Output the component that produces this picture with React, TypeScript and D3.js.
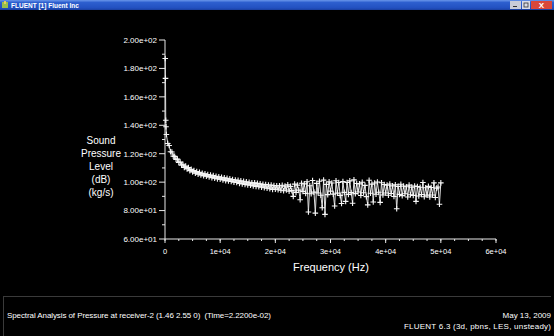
import React, { useEffect, useRef } from "react";
import * as d3 from "d3";

const FREQS: number[] = [
  45, 90, 135, 180,
  250, 500, 750, 1000, 1250, 1500, 1750, 2000, 2250, 2500,
  2750, 3000, 3250, 3500, 3750, 4000, 4250, 4500, 4750, 5000,
  5250, 5500, 5750, 6000, 6250, 6500, 6750, 7000, 7250, 7500,
  7750, 8000, 8250, 8500, 8750, 9000, 9250, 9500, 9750, 10000,
  10250, 10500, 10750, 11000, 11250, 11500, 11750, 12000, 12250, 12500,
  12750, 13000, 13250, 13500, 13750, 14000, 14250, 14500, 14750, 15000,
  15250, 15500, 15750, 16000, 16250, 16500, 16750, 17000, 17250, 17500,
  17750, 18000, 18250, 18500, 18750, 19000, 19250, 19500, 19750, 20000,
  20250, 20500, 20750, 21000, 21250, 21500, 21750, 22000, 22250, 22500,
  22750, 23000, 23250, 23500, 23750, 24000, 24250, 24500, 24750, 25000,
  25250, 25500, 25750, 26000, 26250, 26500, 26750, 27000, 27250, 27500,
  27750, 28000, 28250, 28500, 28750, 29000, 29250, 29500, 29750, 30000,
  30250, 30500, 30750, 31000, 31250, 31500, 31750, 32000, 32250, 32500,
  32750, 33000, 33250, 33500, 33750, 34000, 34250, 34500, 34750, 35000,
  35250, 35500, 35750, 36000, 36250, 36500, 36750, 37000, 37250, 37500,
  37750, 38000, 38250, 38500, 38750, 39000, 39250, 39500, 39750, 40000,
  40250, 40500, 40750, 41000, 41250, 41500, 41750, 42000, 42250, 42500,
  42750, 43000, 43250, 43500, 43750, 44000, 44250, 44500, 44750, 45000,
  45250, 45500, 45750, 46000, 46250, 46500, 46750, 47000, 47250, 47500,
  47750, 48000, 48250, 48500, 48750, 49000, 49250, 49500, 49750, 50000,
];

const LEVELS: number[] = [
  187.0, 173.0, 143.5, 139.0,
  133.5, 127.2, 125.8, 121.4, 121.2, 118.3, 118.1, 116.0, 116.2, 113.9,
  114.1, 112.0, 112.6, 110.4, 111.3, 109.3, 110.2, 108.1, 109.0, 107.2,
  108.1, 106.3, 107.4, 105.6, 106.9, 105.0, 106.2, 104.6, 105.8, 104.1,
  105.3, 103.7, 105.0, 103.2, 104.6, 102.8, 104.1, 102.3, 103.7, 102.0,
  103.4, 101.6, 103.0, 101.1, 102.7, 100.9, 102.3, 100.4, 101.9, 100.0,
  101.5, 99.7, 101.3, 99.1, 100.9, 98.7, 100.6, 98.4, 100.2, 98.1,
  99.9, 97.8, 99.6, 97.4, 99.5, 97.0, 99.1, 96.8, 98.9, 96.5,
  98.4, 96.1, 98.3, 95.7, 98.0, 95.3, 97.9, 94.9, 97.6, 95.1,
  97.5, 94.6, 97.4, 94.3, 97.8, 93.9, 97.2, 94.5, 98.1, 93.6,
  97.0, 94.0, 90.0, 98.6, 92.8, 97.9, 94.4, 87.6, 99.2, 93.5,
  98.8, 92.1, 100.3, 79.0, 97.5, 91.8, 101.2, 93.0, 78.2, 99.1,
  92.4, 100.6, 90.8, 82.0, 101.4, 77.3, 98.4, 91.2, 100.2, 93.7,
  99.4, 91.6, 83.2, 101.0, 92.3, 99.8, 90.7, 85.0, 100.5, 92.8,
  86.5, 99.7, 91.4, 100.9, 92.6, 85.2, 101.6, 91.9, 99.0, 93.1,
  98.8, 90.6, 99.9, 92.5, 97.7, 89.8, 84.0, 101.3, 92.2, 98.6,
  86.0, 99.4, 91.5, 100.1, 92.9, 85.8, 99.6, 91.0, 98.3, 92.4,
  97.9, 90.8, 98.7, 92.0, 97.4, 89.9, 98.2, 81.3, 97.0, 91.4,
  98.5, 90.5, 97.2, 91.8, 96.8, 89.6, 97.9, 91.1, 96.5, 90.7,
  97.3, 86.5, 96.9, 90.2, 96.4, 91.3, 99.8, 89.7, 96.1, 90.9,
  97.0, 89.5, 96.2, 91.0, 99.5, 89.2, 95.8, 96.6, 84.5, 99.5,
];

const X_TICKS: number[] = [0, 10000, 20000, 30000, 40000, 50000, 60000];
const X_TICK_LABELS: string[] = ["0", "1e+04", "2e+04", "3e+04", "4e+04", "5e+04", "6e+04"];
const Y_TICKS: number[] = [60, 80, 100, 120, 140, 160, 180, 200];
const Y_TICK_LABELS: string[] = [
  "6.00e+01", "8.00e+01", "1.00e+02", "1.20e+02", "1.40e+02", "1.60e+02", "1.80e+02", "2.00e+02",
];
const Y_LABEL_LINES: string[] = ["Sound", "Pressure", "Level", "(dB)", "(kg/s)"];
const X_LABEL = "Frequency (Hz)";
const WINDOW_TITLE = "FLUENT [1] Fluent Inc";
const FOOTER_LEFT = "Spectral Analysis of Pressure at receiver-2 (1.46 2.55 0)  (Time=2.2200e-02)";
const FOOTER_RIGHT: string[] = ["May 13, 2009", "FLUENT 6.3 (3d, pbns, LES, unsteady)"];

const W = 554;
const H = 336;
const FONT = "Arial, 'Liberation Sans', Helvetica, sans-serif";

export default function App() {
  const ref = useRef<SVGSVGElement | null>(null);

  useEffect(() => {
    const svg = d3.select(ref.current);
    svg.selectAll("*").remove();

    // background
    svg.append("rect").attr("width", W).attr("height", H).attr("fill", "#000");

    // title bar
    const defs = svg.append("defs");
    const g = defs.append("linearGradient").attr("id", "tb").attr("x1", 0).attr("y1", 0).attr("x2", 0).attr("y2", 1);
    g.append("stop").attr("offset", "0").attr("stop-color", "#6a96ea");
    g.append("stop").attr("offset", "0.25").attr("stop-color", "#2d5fcf");
    g.append("stop").attr("offset", "0.8").attr("stop-color", "#2250c0");
    g.append("stop").attr("offset", "1").attr("stop-color", "#1a3f9e");
    svg.append("rect").attr("x", 0).attr("y", 0).attr("width", W).attr("height", 10).attr("fill", "url(#tb)");
    svg.append("rect").attr("x", 2).attr("y", 2).attr("width", 6).attr("height", 6).attr("fill", "#9bbf4a");
    svg.append("rect").attr("x", 4).attr("y", 1).attr("width", 2).attr("height", 3).attr("fill", "#e4d060");
    svg.append("text").attr("x", 11).attr("y", 7.5).attr("fill", "#fff")
      .attr("font-family", FONT).attr("font-size", 6.5).attr("font-weight", "bold").text(WINDOW_TITLE);
    svg.append("rect").attr("x", 510).attr("y", 1).attr("width", 11).attr("height", 8).attr("fill", "#c9ccd8");
    svg.append("rect").attr("x", 513).attr("y", 6).attr("width", 4).attr("height", 1).attr("fill", "#333");
    svg.append("rect").attr("x", 522).attr("y", 1).attr("width", 8).attr("height", 8).attr("fill", "#d8dbe6");
    svg.append("rect").attr("x", 524).attr("y", 3).attr("width", 4).attr("height", 4).attr("fill", "none").attr("stroke", "#333").attr("stroke-width", 0.8);
    svg.append("rect").attr("x", 531).attr("y", 1).attr("width", 21).attr("height", 8).attr("fill", "#d9473a");
    svg.append("text").attr("x", 541.5).attr("y", 8).attr("fill", "#fff").attr("text-anchor", "middle")
      .attr("font-family", FONT).attr("font-size", 8).attr("font-weight", "bold").text("X");

    // scales
    const x = d3.scaleLinear().domain([0, 60000]).range([165, 496]);
    const y = d3.scaleLinear().domain([60, 200]).range([239, 40]);

    const axisColor = "#e8e8e8";

    // y axis
    svg.append("line").attr("x1", x(0)).attr("x2", x(0)).attr("y1", y(60)).attr("y2", y(200))
      .attr("stroke", axisColor).attr("stroke-width", 1);
    const yMinor = d3.range(70, 200, 20);
    svg.selectAll(".ymin").data(yMinor).enter().append("line")
      .attr("x1", x(0) - 3).attr("x2", x(0)).attr("y1", (d) => y(d)).attr("y2", (d) => y(d))
      .attr("stroke", axisColor).attr("stroke-width", 1);
    svg.selectAll(".ymaj").data(Y_TICKS).enter().append("line")
      .attr("x1", x(0) - 6).attr("x2", x(0)).attr("y1", (d) => y(d)).attr("y2", (d) => y(d))
      .attr("stroke", axisColor).attr("stroke-width", 1);
    svg.selectAll(".ylab").data(Y_TICKS).enter().append("text")
      .attr("x", x(0) - 8).attr("y", (d) => y(d)).attr("dy", "0.35em").attr("text-anchor", "end")
      .attr("fill", "#fff").attr("font-family", FONT).attr("font-size", 8)
      .text((d, i) => Y_TICK_LABELS[i]);

    // x axis
    svg.append("line").attr("x1", x(0)).attr("x2", x(60000)).attr("y1", y(60)).attr("y2", y(60))
      .attr("stroke", axisColor).attr("stroke-width", 1);
    const xMinor = d3.range(0, 60001, 2500);
    svg.selectAll(".xmin").data(xMinor).enter().append("line")
      .attr("x1", (d) => x(d)).attr("x2", (d) => x(d)).attr("y1", y(60)).attr("y2", y(60) + 2)
      .attr("stroke", axisColor).attr("stroke-width", 1);
    svg.selectAll(".xmaj").data(X_TICKS).enter().append("line")
      .attr("x1", (d) => x(d)).attr("x2", (d) => x(d)).attr("y1", y(60)).attr("y2", y(60) + 4)
      .attr("stroke", axisColor).attr("stroke-width", 1);
    svg.selectAll(".xlab").data(X_TICKS).enter().append("text")
      .attr("x", (d) => x(d)).attr("y", 251).attr("dy", "0.35em").attr("text-anchor", "middle")
      .attr("fill", "#fff").attr("font-family", FONT).attr("font-size", 7.5)
      .text((d, i) => X_TICK_LABELS[i]);

    // axis titles
    svg.append("text").attr("x", 331).attr("y", 267).attr("dy", "0.35em").attr("text-anchor", "middle")
      .attr("fill", "#fff").attr("font-family", FONT).attr("font-size", 11).text(X_LABEL);
    svg.selectAll(".ylt").data(Y_LABEL_LINES).enter().append("text")
      .attr("x", 101).attr("y", (d, i) => 140 + i * 13).attr("dy", "0.35em").attr("text-anchor", "middle")
      .attr("fill", "#fff").attr("font-family", FONT).attr("font-size", 10).text((d) => d);

    // data
    const pts = FREQS.map((f, i) => [f, LEVELS[i]] as [number, number]);
    const line = d3.line<[number, number]>().x((d) => x(d[0])).y((d) => y(d[1]));
    svg.append("path").attr("d", line(pts) || "").attr("fill", "none")
      .attr("stroke", "#dcdcdc").attr("stroke-width", 1);
    const s = 2.8;
    svg.selectAll(".mk").data(pts).enter().append("path")
      .attr("d", (d) => {
        const cx = x(d[0]);
        const cy = y(d[1]);
        return `M${cx - s},${cy}H${cx + s}M${cx},${cy - s}V${cy + s}`;
      })
      .attr("stroke", "#f6f6f6").attr("stroke-width", 1.1).attr("fill", "none");

    // footer
    svg.append("line").attr("x1", 3).attr("x2", W - 3).attr("y1", 296.5).attr("y2", 296.5)
      .attr("stroke", "#3a3a3a").attr("stroke-width", 1);
    svg.append("line").attr("x1", 3.5).attr("x2", 3.5).attr("y1", 296).attr("y2", H)
      .attr("stroke", "#3a3a3a").attr("stroke-width", 1);
    svg.append("text").attr("x", 7).attr("y", 315).attr("dy", "0.35em")
      .style("white-space", "pre")
      .attr("fill", "#fff").attr("font-family", FONT).attr("font-size", 8)
      .attr("textLength", 264).attr("lengthAdjust", "spacing").text(FOOTER_LEFT);
    svg.append("text").attr("x", 551).attr("y", 315).attr("dy", "0.35em").attr("text-anchor", "end")
      .attr("fill", "#fff").attr("font-family", FONT).attr("font-size", 8).text(FOOTER_RIGHT[0]);
    svg.append("text").attr("x", 404).attr("y", 326).attr("dy", "0.35em")
      .attr("fill", "#fff").attr("font-family", FONT).attr("font-size", 8)
      .attr("textLength", 147).attr("lengthAdjust", "spacing").text(FOOTER_RIGHT[1]);
  }, []);

  return (
    <svg
      ref={ref}
      width={W}
      height={H}
      style={{ position: "absolute", left: 0, top: 0, display: "block" }}
    />
  );
}
